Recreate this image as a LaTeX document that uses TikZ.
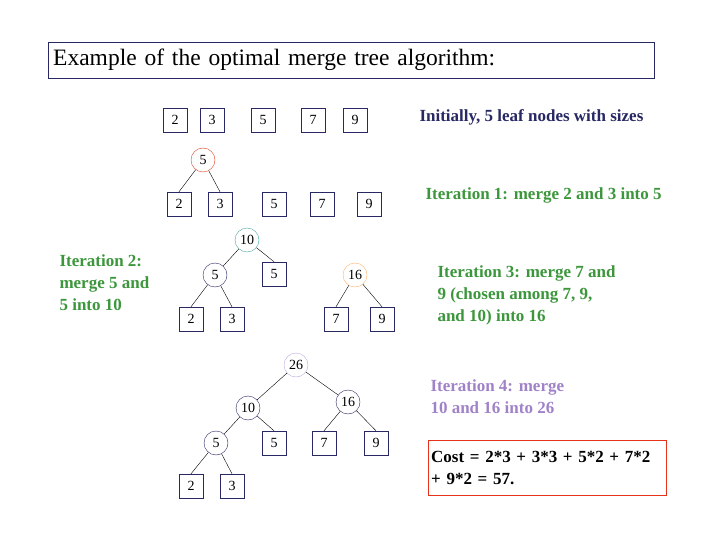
\documentclass[tikz,border=0pt]{standalone}
\usepackage{fontspec}
\setmainfont{Liberation Serif}
\usepackage{tikz}
\usetikzlibrary{positioning}
\definecolor{navy}{RGB}{40,40,100}
\definecolor{grn}{RGB}{60,150,60}
\definecolor{lav}{RGB}{160,130,200}
\tikzset{
    x=1pt, y=-1pt,
    leaf/.style={rectangle, draw=navy, minimum size=24pt, inner sep=0, font=\fontsize{14pt}{15}\selectfont},
    merged/.style={circle, draw=navy, minimum size=24pt, inner sep=0, font=\fontsize{14pt}{15}\selectfont},
    note/.style={align=left, font=\fontsize{17pt}{22}\selectfont\bfseries, anchor=west},
}
\begin{document}
\begin{tikzpicture}
    \useasboundingbox (0,0) rectangle (720,540);
    \node[draw=navy, minimum width=606pt, minimum height=36pt, anchor=north west,
        font=\fontsize{23.5pt}{24}\selectfont, text width=596pt, align=left] (title) at (48,42) {Example of the optimal merge tree algorithm:};

    % initial leaves
    \node[leaf] (a2) at (175,120) {2};
    \node[leaf] (a3) at (212,120) {3};
    \node[leaf] (a5) at (263,120) {5};
    \node[leaf] (a7) at (313,120) {7};
    \node[leaf] (a9) at (355,120) {9};
    \node[note, navy] (t0) at (416,117) {Initially, 5 leaf nodes with sizes};

    % iteration 1
    \node[merged, draw=red!50!brown] (b5m) at (203,160) {5};
    \node[leaf] (b2) at (179,204) {2};
    \node[leaf] (b3) at (220,204) {3};
    \node[leaf] (b5) at (274,204) {5};
    \node[leaf] (b7) at (322,204) {7};
    \node[leaf] (b9) at (369,204) {9};
    \draw (b5m) -- (b2.north) (b5m) -- (b3.north);
    \node[note, grn] (t1) at (422,195) {Iteration 1: merge 2 and 3 into 5};

    % iteration 2 and 3
    \node[merged, draw=teal!70] (c10) at (247,240) {10};
    \node[merged] (c5m) at (215,275) {5};
    \node[leaf] (c5) at (274,274) {5};
    \node[merged, draw=orange!60] (c16) at (355,275) {16};
    \node[leaf] (c2) at (191,319) {2};
    \node[leaf] (c3) at (232,319) {3};
    \node[leaf] (c7) at (336,319) {7};
    \node[leaf] (c9) at (382,319) {9};
    \draw (c10) -- (c5m) (c10) -- (c5.north)
          (c5m) -- (c2.north) (c5m) -- (c3.north)
          (c16) -- (c7.north) (c16) -- (c9.north);
    \node[note, grn] (t2) at (56,283) {Iteration 2:\\merge 5 and\\5 into 10};
    \node[note, grn] (t3) at (434,295) {Iteration 3: merge 7 and\\9 (chosen among 7, 9,\\and 10) into 16};

    % iteration 4
    \node[merged, draw=lav!70] (d26) at (296,365) {26};
    \node[merged] (d10) at (248,408) {10};
    \node[merged] (d16) at (348,402) {16};
    \node[merged] (d5m) at (216,443) {5};
    \node[leaf] (d5) at (274,443) {5};
    \node[leaf] (d7) at (324,443) {7};
    \node[leaf] (d9) at (376,443) {9};
    \node[leaf] (d2) at (191,486) {2};
    \node[leaf] (d3) at (232,486) {3};
    \draw (d26) -- (d10) (d26) -- (d16)
          (d10) -- (d5m) (d10) -- (d5.north)
          (d16) -- (d7.north) (d16) -- (d9.north)
          (d5m) -- (d2.north) (d5m) -- (d3.north);
    \node[note, lav] (t4) at (427,397) {Iteration 4: merge\\10 and 16 into 26};

    \node[draw=red!60!brown, anchor=north west, minimum width=238pt, minimum height=55pt,
        text width=232pt, inner xsep=2pt, align=left, font=\fontsize{17pt}{22}\selectfont\bfseries] (cost) at (428,440)
        {Cost = 2*3 + 3*3 + 5*2 + 7*2\\+ 9*2 = 57.};
\end{tikzpicture}
\end{document}
